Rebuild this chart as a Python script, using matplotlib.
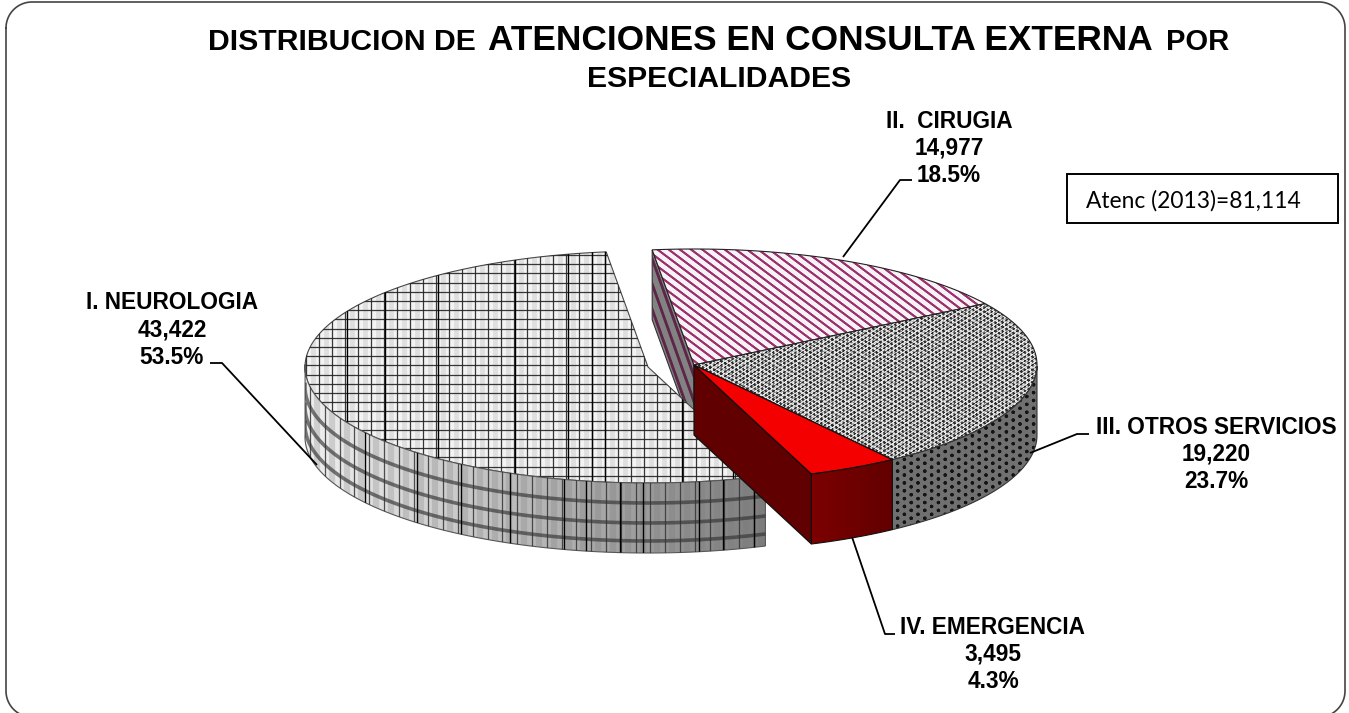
import numpy as np
import matplotlib
matplotlib.use("Agg")
import matplotlib.pyplot as plt
from matplotlib.patches import Polygon, Rectangle

categories = ["I. NEUROLOGIA", "II.  CIRUGIA", "III. OTROS SERVICIOS", "IV. EMERGENCIA"]
atenciones = [43422, 14977, 19220, 3495]
porcentajes = [53.5, 18.5, 23.7, 4.3]
total_label = "Atenc (2013)=81,114"

W, H = 1349, 713
RX, RY, DEPTH = 343, 116, 70
CENTER = (694, 365)
CENTER_NEURO = (648, 367)
START_ANGLE = -8.4  # degrees clockwise from the top, where II starts

fig = plt.figure(figsize=(W / 100, H / 100), dpi=100)
ax = fig.add_axes([0, 0, 1, 1])
ax.set_xlim(0, W)
ax.set_ylim(H, 0)
ax.axis("off")

yy, xx = np.mgrid[0:H, 0:W] + 0.5
layer = [10]


def next_z():
    layer[0] += 1
    return layer[0]


def view_angle(a):
    # the tilted pie is not a perfect ellipse, small correction per angle
    return a + np.interp(a, [-8.4, 58, 143, 159, 352], [1.4, 0, 1.3, 1.1, 1.4])


def arc(center, a, b, dy=0, n=160):
    t = np.radians(view_angle(np.linspace(a, b, n)))
    return np.column_stack([center[0] + RX * np.sin(t), center[1] - RY * np.cos(t) + dy])


def top_poly(center, a, b):
    return np.vstack([[center], arc(center, a, b)])


def side_poly(center, a, b):
    return np.vstack([arc(center, a, b), arc(center, a, b, DEPTH)[::-1]])


def mix(c0, c1, t):
    c0 = np.array(matplotlib.colors.to_rgb(c0))
    c1 = np.array(matplotlib.colors.to_rgb(c1))
    return c0 * (1 - t[..., None]) + c1 * t[..., None]


def hex_dots(period):
    k = 2 * np.pi / period
    return (np.cos(k * xx) + np.cos(k * (0.5 * xx + 0.866 * yy)) + np.cos(k * (-0.5 * xx + 0.866 * yy))) / 3


def paint(poly, image, edge="#222222", lw=0.8):
    z = next_z()
    im = ax.imshow(image, extent=(0, W, H, 0), aspect="auto", interpolation="nearest", zorder=z)
    clip = Polygon(poly, closed=True, transform=ax.transData)
    im.set_clip_path(clip)
    ax.set_xlim(0, W)
    ax.set_ylim(H, 0)
    ax.add_patch(Polygon(poly, closed=True, fill=False, edgecolor=edge, linewidth=lw, zorder=z + 0.5))
    return clip


def solid(poly, color, edge="#111111", lw=0.9):
    ax.add_patch(Polygon(poly, closed=True, facecolor=color, edgecolor=edge, linewidth=lw, zorder=next_z()))


def grid_lines(clip, xs, y0, y1, color, lw, alpha=1.0):
    lines = ax.vlines(xs, y0, y1, colors=color, linewidth=lw, alpha=alpha, zorder=next_z())
    lines.set_clip_path(clip)


def hgrid_lines(clip, ys, x0, x1, color, lw, alpha=1.0):
    lines = ax.hlines(ys, x0, x1, colors=color, linewidth=lw, alpha=alpha, zorder=next_z())
    lines.set_clip_path(clip)


def rounded_frame(x0, y0, x1, y1, r):
    t = np.radians(np.linspace(0, 90, 24))
    s, c = np.sin(t), np.cos(t)
    return np.vstack([
        np.column_stack([x0 + r - r * c, y0 + r - r * s]),
        np.column_stack([x1 - r + r * s, y0 + r - r * c]),
        np.column_stack([x1 - r + r * c, y1 - r + r * s]),
        np.column_stack([x0 + r - r * s, y1 - r + r * c]),
        [[x0, y0 + r]],
    ])


# wedge angles follow the data, clockwise order II, III, IV, I
total = sum(atenciones)
sweep = [v / total * 360 for v in atenciones]
a2 = START_ANGLE + sweep[1]
a3 = a2 + sweep[2]
a4 = a3 + sweep[3]
a1 = a4 + sweep[0]

# II cirugia: inner cut side, then top
cut_far = arc(CENTER, START_ANGLE, START_ANGLE, n=1)[0]
cut = np.array([cut_far, CENTER, CENTER + np.array([0, DEPTH]), cut_far + np.array([0, DEPTH])])
stripes = np.cos(2 * np.pi * (xx - (yy - 247) * 42 / 118) / 9.0) * 0.5 + 0.5
paint(cut, mix("#828282", "#5e2549", np.clip((stripes - 0.6) * 3.5, 0, 1)), edge="#333333")
stripes = np.cos(2 * np.pi * (yy - 0.75 * xx) / 8.4) * 0.5 + 0.5
paint(top_poly(CENTER, START_ANGLE, a2), mix("#f6f2f5", "#9c2f6c", np.clip((stripes - 0.6) * 3.5, 0, 1)))

# III otros servicios: stippled top and outer side
dots = hex_dots(3.7) + 0.4 * hex_dots(5.3) + 0.3 * np.cos(1.9 * xx + 2.7 * yy)
paint(top_poly(CENTER, a2, a3), mix("#e8e8e8", "#2a2a2a", np.clip(dots * 1.1 + 0.42, 0, 1)))
blobs = hex_dots(6.8)
paint(side_poly(CENTER, 90, a3), mix("#707070", "#141414", np.clip((blobs - 0.2) * 2.8, 0, 1)), edge="#333333")

# I neurologia: checked top
top1 = top_poly(CENTER_NEURO, a4, a1)
clip = paint(top1, np.ones((H, W, 3)) * 0.955, edge="#444444")
grid_xs = np.arange(306, 790, 13.0)
grid_ys = np.arange(255, 490, 9.2)
grid_lines(clip, grid_xs + 6.5, 240, 490, "#999999", 3.5, 0.22)
grid_lines(clip, grid_xs, 240, 490, "#222222", 0.9, 0.9)
hgrid_lines(clip, grid_ys, 300, 780, "#222222", 0.9, 0.9)
grid_lines(clip, [347, 385, 438, 515, 568, 592, 605, 682, 733], 240, 490, "#000000", 1.0)

# I neurologia: outer side with grey gradient and three bands
ramp = np.clip((xx - 306) / 460, 0, 1)
side1 = side_poly(CENTER_NEURO, a4, 270)
clip = paint(side1, mix("#f0f0f0", "#7e7e7e", ramp), edge="#555555")
side_xs = np.arange(310, 770, 14.8)
grid_lines(clip, side_xs + 7, 360, 560, "#777777", 4.5, 0.25)
grid_lines(clip, side_xs, 360, 560, "#333333", 0.9, 0.85)
for band in (20, 40, 58):
    curve = arc(CENTER_NEURO, a4, 270, band)
    line, = ax.plot(curve[:, 0], curve[:, 1], color="#333333", lw=2.6, alpha=0.65, zorder=next_z())
    line.set_clip_path(clip)
grid_lines(clip, [365, 417, 461, 510, 564, 586, 620, 643, 699, 723, 754], 360, 560, "#000000", 1.0)

# IV emergencia: solid red, drawn last because it sits in front
near = arc(CENTER, a4, a4, n=1)[0]
solid(np.array([CENTER, near, near + [0, DEPTH], CENTER + np.array([0, DEPTH])]), "#600000")
solid(top_poly(CENTER, a3, a4), "#f50000")
paint(side_poly(CENTER, a3, a4), mix("#7c0000", "#620000", np.clip((xx - 812) / 81, 0, 1)), edge="#111111")

# leader lines
leaders = [
    [(317, 465), (222, 363), (210, 363)],
    [(843, 257), (900, 180), (912, 180)],
    [(1030, 453), (1077, 434), (1089, 434)],
    [(852, 537), (885, 634), (895, 634)],
]
for pts in leaders:
    pts = np.array(pts)
    ax.plot(pts[:, 0], pts[:, 1], color="black", lw=1.3, zorder=next_z(), solid_capstyle="butt")

# data labels
label_pos = {0: (172, 330), 1: (949, 148.5), 2: (1216, 454.5), 3: (993, 654.5)}
label_font = {"family": "Liberation Sans", "weight": "bold", "fontsize": 16.3, "color": "black"}
for i, cat in enumerate(categories):
    txt = f"{cat}\n{atenciones[i]:,}\n{porcentajes[i]}%"
    ax.text(*label_pos[i], txt, ha="center", va="center", linespacing=1.24, zorder=200, **label_font)

# title, three sizes on the first line
title_font = {"family": "Liberation Sans", "weight": "bold", "color": "black", "va": "baseline", "zorder": 200}
ax.text(208, 50.5, "DISTRIBUCION DE", ha="left", fontsize=21.7, **title_font)
ax.text(488, 50.5, "ATENCIONES EN CONSULTA EXTERNA", ha="left", fontsize=25.4, **title_font)
ax.text(1166, 50.5, "POR", ha="left", fontsize=21, **title_font)
ax.text(719, 87, "ESPECIALIDADES", ha="center", fontsize=21.7, **title_font)

# total box
ax.add_patch(Rectangle((1067, 174), 271, 49, facecolor="white", edgecolor="black", linewidth=1.4, zorder=190))
ax.text(1086, 201, total_label, family="Lato", fontsize=16.4, ha="left", va="center", zorder=200)

# chart frame, the bottom edge runs off the picture
frame = rounded_frame(6, 2, 1345, 717, 26)
ax.plot(frame[:, 0], frame[:, 1], color="#444444", lw=1.2, zorder=5)

fig.savefig("out.png", dpi=100)
